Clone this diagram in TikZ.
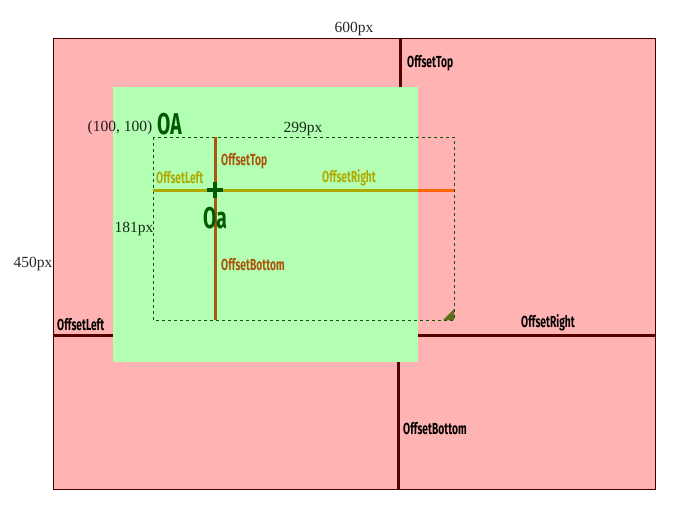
\documentclass[tikz,border=0pt]{standalone}
\usepackage{fontspec}
\setmainfont{Liberation Serif}
\newfontfamily\condfont[FakeStretch=0.64]{Fira Sans}
\definecolor{outerpink}{RGB}{255,179,179}
\definecolor{innergreen}{RGB}{179,255,179}
\definecolor{edgered}{RGB}{85,0,0}
\definecolor{offbrown}{RGB}{170,85,10}
\definecolor{offolive}{RGB}{175,170,0}
\definecolor{offorange}{RGB}{255,102,0}
\definecolor{darkgreen}{RGB}{0,90,0}
\definecolor{handle}{RGB}{95,110,30}
\usetikzlibrary{positioning}

\begin{document}
\begin{tikzpicture}[x=1pt, y=-1pt, every node/.style={inner sep=1pt}]
\tikzset{
  offlbl/.style={font=\condfont\bfseries\fontsize{16}{17}\selectfont, anchor=west},
  pxlbl/.style={font=\fontsize{15.5}{17}\selectfont, text opacity=0.85},
  outerline/.style={draw=edgered, line width=3pt},
}
\useasboundingbox (0,0) rectangle (693,517);
% Outer box
\draw[fill=outerpink, draw=edgered!70!black, line width=0.8pt] (53,38) rectangle (655,489);
% Inner box
\fill[innergreen] (113,87) rectangle (418,362);
% Dashed selection
\coordinate (sTL) at (153,137);
\coordinate (sBR) at (454,320);
\draw[darkgreen, dashed, line width=0.6pt] (sTL) rectangle (sBR);
\fill[handle] (443,320) -- (sBR) -- (454,309) -- cycle;
% Outer offsets
\coordinate (oT1) at (400,38);  \coordinate (oT2) at (400,87);
\coordinate (oL1) at (53,335);  \coordinate (oL2) at (113,335);
\coordinate (oR1) at (418,335); \coordinate (oR2) at (655,335);
\coordinate (oB1) at (398,362); \coordinate (oB2) at (398,489);
\foreach \a/\b in {oT1/oT2, oL1/oL2, oR1/oR2, oB1/oB2} {
  \draw[outerline] (\a) -- (\b);
}
\node[offlbl] (lblT) at (406,63) {OffsetTop};
\node[offlbl] (lblL) at (56,325) {OffsetLeft};
\node[offlbl] (lblR) at (520,323) {OffsetRight};
\node[offlbl] (lblB) at (402,429) {OffsetBottom};
% Inner offsets
\coordinate (iT) at (215,137);  \coordinate (iB) at (215,320);
\coordinate (iL) at (153,190);  \coordinate (iM) at (418,190);
\coordinate (iR) at (454,190);
\draw[offbrown, line width=3pt] (iT) -- (iB);
\draw[offolive, line width=3pt] (iL) -- (iM);
\draw[offorange, line width=3pt] (iM) -- (iR);
\node[offlbl, offbrown] (lblIT) at (220,161) {OffsetTop};
\node[offlbl, offolive] (lblIL) at (155,178) {OffsetLeft};
\node[offlbl, offolive] (lblIR) at (321,178) {OffsetRight};
\node[offlbl, offbrown] (lblIB) at (220,265) {OffsetBottom};
% Origin cross
\coordinate (oa) at (215,190);
\draw[darkgreen, line width=3.5pt] ([xshift=-8pt]oa) -- ([xshift=8pt]oa) ([yshift=-8pt]oa) -- ([yshift=8pt]oa);
\node[font=\condfont\bfseries\fontsize{30}{32}\selectfont, darkgreen] (lblOa) at (215,218) {Oa};
\node[font=\condfont\bfseries\fontsize{30}{32}\selectfont, darkgreen, anchor=west] (lblOA) at (156,124) {OA};
% Dimensions
\node[pxlbl] (w600) at (354,29) {600px};
\node[pxlbl] (h450) at (33,264) {450px};
\node[pxlbl] (w299) at (303,129) {299px};
\node[pxlbl] (h181) at (134,229) {181px};
\node[pxlbl] (pos) at (120,128) {(100, 100)};
\end{tikzpicture}
\end{document}
